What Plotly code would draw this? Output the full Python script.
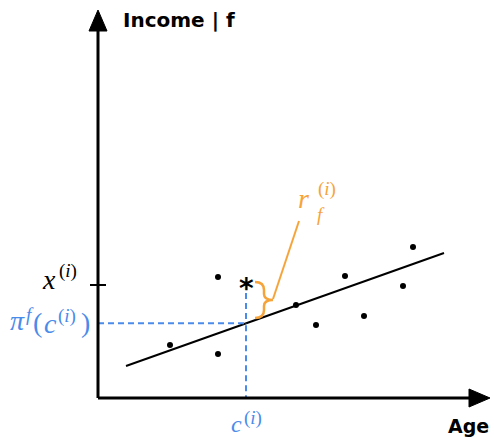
import plotly.graph_objects as go

# Scatter sample (age, income) in canvas units
ages = [170, 218, 218, 296, 316, 345, 364, 403, 413]
incomes = [345, 277, 354, 305, 325, 276, 316, 286, 247]

# Fitted line end points
fit_x = [126, 444]
fit_y = [366, 253]

# Highlighted observation c(i), x(i)
obs_x = 246
obs_y = 285

# Axes geometry
origin = (98, 398)
y_top = 10
x_right = 490

BLUE = "#4a8bea"
ORANGE = "#f6a43a"
SERIF = "Liberation Serif, DejaVu Serif, serif"
SANS = "DejaVu Sans"

slope = (fit_y[1] - fit_y[0]) / (fit_x[1] - fit_x[0])
pred_y = fit_y[0] + slope * (obs_x - fit_x[0])

fig = go.Figure()

# regression line
fig.add_trace(go.Scatter(x=fit_x, y=fit_y, mode="lines",
                         line=dict(color="black", width=2), hoverinfo="skip"))
# dashed guides to prediction
fig.add_trace(go.Scatter(x=[origin[0], obs_x, obs_x], y=[pred_y, pred_y, origin[1]],
                         mode="lines", line=dict(color=BLUE, width=2, dash="6px,4px"),
                         hoverinfo="skip"))
fig.add_trace(go.Scatter(x=[obs_x, obs_x], y=[obs_y + 8, pred_y], mode="lines",
                         line=dict(color=BLUE, width=2, dash="6px,4px"), hoverinfo="skip"))
# data points
fig.add_trace(go.Scatter(x=ages, y=incomes, mode="markers",
                         marker=dict(color="black", size=6), hoverinfo="skip"))
# residual pointer
fig.add_trace(go.Scatter(x=[273, 299], y=[299, 221], mode="lines",
                         line=dict(color=ORANGE, width=2), hoverinfo="skip"))

shapes = [
    # y axis
    dict(type="line", x0=origin[0], y0=origin[1], x1=origin[0], y1=y_top + 18,
         line=dict(color="black", width=3)),
    dict(type="path", path=f"M {origin[0]} {y_top} L {origin[0]-9} {y_top+21} L {origin[0]+9} {y_top+21} Z",
         fillcolor="black", line=dict(color="black", width=1)),
    # x axis
    dict(type="line", x0=origin[0], y0=origin[1], x1=x_right - 18, y1=origin[1],
         line=dict(color="black", width=3)),
    dict(type="path", path=f"M {x_right} {origin[1]} L {x_right-21} {origin[1]-9} L {x_right-21} {origin[1]+9} Z",
         fillcolor="black", line=dict(color="black", width=1)),
    # tick for x(i)
    dict(type="line", x0=origin[0] - 8, y0=obs_y, x1=origin[0] + 8, y1=obs_y,
         line=dict(color="black", width=2)),
    # curly brace
    dict(type="path",
         path=("M 255 282 Q 264 282 264 290 L 264 294 Q 264 300 273 300 "
               "Q 264 300 264 306 L 264 310 Q 264 318 255 318"),
         line=dict(color=ORANGE, width=2.5)),
]


def glyph(x, y, text, size, color, family=SERIF):
    """Single math glyph group, centred on (x, y)."""
    return dict(x=x, y=y, text=text, xanchor="center", yanchor="middle",
                font=dict(family=family, size=size, color=color))


BIG, SMALL = 28, 19

annotations = [
    dict(x=121, y=20, text="<b>Income | f</b>", xanchor="left", yanchor="middle",
         font=dict(family=SANS, size=20, color="black")),
    dict(x=446, y=426, text="<b>Age</b>", xanchor="left", yanchor="middle",
         font=dict(family=SANS, size=19, color="black")),
    glyph(obs_x, obs_y + 3, "<b>*</b>", 28, "black", SANS),
    # x^(i)
    glyph(49, 279, "<i>x</i>", BIG, "black"),
    glyph(68, 271, "(<i>i</i>)", SMALL, "black"),
    # pi^f(c^(i))
    glyph(17, 320, "<i>π</i>", BIG, BLUE),
    glyph(30, 314, "<i>f</i>", SMALL, BLUE),
    glyph(37, 322, "(", BIG, BLUE),
    glyph(50, 323, "<i>c</i>", BIG, BLUE),
    glyph(67, 316, "(<i>i</i>)", SMALL, BLUE),
    glyph(85, 322, ")", BIG, BLUE),
    # c^(i)
    glyph(236, 424, "<i>c</i>", 24, BLUE),
    glyph(253, 418, "(<i>i</i>)", SMALL, BLUE),
    # r_f^(i)
    glyph(303, 198, "<i>r</i>", BIG, ORANGE),
    glyph(327, 189, "(<i>i</i>)", SMALL, ORANGE),
    glyph(321, 214, "<i>f</i>", SMALL, ORANGE),
]
for a in annotations:
    a.update(xref="x", yref="y", showarrow=False)

fig.update_layout(
    width=494, height=441,
    margin=dict(l=0, r=0, t=0, b=0),
    paper_bgcolor="white", plot_bgcolor="white",
    showlegend=False,
    xaxis=dict(range=[0, 494], visible=False, fixedrange=True),
    yaxis=dict(range=[441, 0], visible=False, fixedrange=True),
    shapes=shapes, annotations=annotations,
)

fig.write_html("out.html", config=dict(displayModeBar=False))
